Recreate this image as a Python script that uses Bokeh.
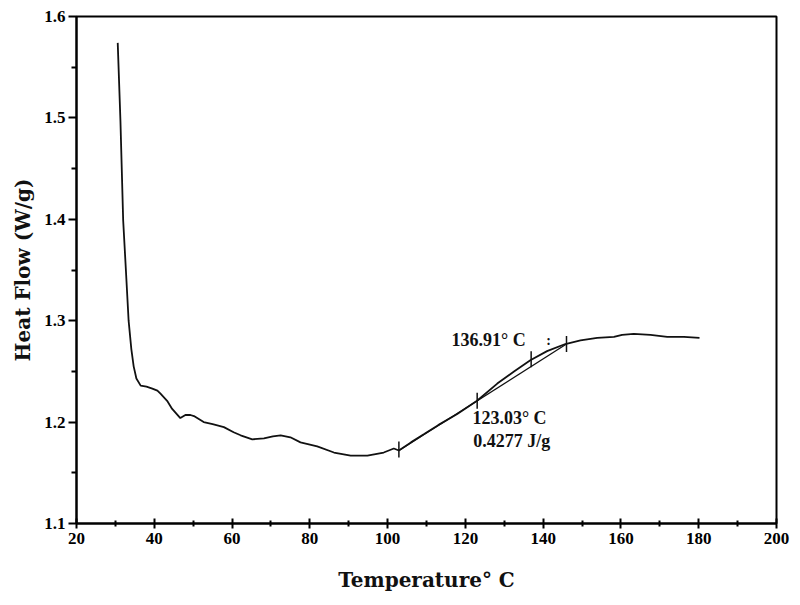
from bokeh.plotting import figure
from bokeh.models import FixedTicker, Range1d
from bokeh.core.properties import value
from bokeh.embed import file_html
from bokeh.resources import INLINE
import numpy as np

# DSC curve (Temperature in °C, Heat Flow in W/g)
temp = [30.6, 31.3, 32.0, 32.7, 33.4, 34.1, 34.7, 35.4, 36.5, 38.0, 39.5, 40.8, 41.6,
        43.3, 44.6, 46.7, 48.0, 49.3, 50.2, 52.7, 55.0, 57.9, 60.4, 62.2, 65.2,
        68.2, 70.5, 72.5, 75.0, 77.6, 81.9, 86.2, 90.5, 94.8, 99.0, 101.6, 102.9,
        106.0, 109.3, 113.0, 117.9, 123.0, 128.2, 132.5, 136.7, 141.0, 145.7,
        149.6, 153.9, 158.2, 160.3, 163.3, 167.6, 171.9, 176.2, 180.2]
heat_flow = [1.574, 1.497, 1.399, 1.350, 1.300, 1.272, 1.255, 1.243, 1.236, 1.235, 1.233, 1.231, 1.228,
             1.221, 1.213, 1.204, 1.207, 1.207, 1.206, 1.200, 1.198, 1.195, 1.190, 1.187, 1.183,
             1.184, 1.186, 1.187, 1.185, 1.180, 1.176, 1.170, 1.167, 1.167, 1.170, 1.174, 1.172,
             1.180, 1.188, 1.197, 1.208, 1.221, 1.238, 1.250, 1.261, 1.270, 1.277,
             1.2805, 1.283, 1.284, 1.286, 1.287, 1.286, 1.284, 1.284, 1.283]

# Glass-transition analysis: baseline and markers
baseline_t = [102.9, 146.0]
baseline_hf = [1.172, 1.277]
marker_t = [102.9, 123.03, 136.91, 146.0]
marker_hf = [1.173, 1.221, 1.262, 1.277]

# Annotation texts
label_onset = "136.91° C"
label_mid = "123.03° C"
label_enthalpy = "0.4277 J/g"

x_ticks = [20, 40, 60, 80, 100, 120, 140, 160, 180, 200]
x_minor = [30, 50, 70, 90, 110, 130, 150, 170, 190]
y_ticks = [1.1, 1.2, 1.3, 1.4, 1.5, 1.6]
y_minor = [1.15, 1.25, 1.35, 1.45, 1.55]

p = figure(width=798, height=600, x_range=Range1d(20, 200), y_range=Range1d(1.1, 1.6),
           output_backend="svg", toolbar_location=None,
           min_border_left=76, min_border_right=22, min_border_top=16, min_border_bottom=77)
p.grid.visible = False
p.outline_line_color = "black"
p.outline_line_width = 2
p.background_fill_color = "white"
p.border_fill_color = "white"

p.line(temp, heat_flow, line_color="#111111", line_width=1.8)
p.line(baseline_t, baseline_hf, line_color="#111111", line_width=1.3)
p.scatter(marker_t, marker_hf, marker="dash", size=16, angle=np.pi / 2,
          line_color="#111111", line_width=1.5)

tfont = value("Liberation Serif")
p.text([135.5], [1.2805], text=[label_onset], text_font=tfont, text_font_size="18px",
       text_font_style="bold", text_align="right", text_baseline="middle", text_color="#111111")
p.text([141.4], [1.2805], text=[":"], text_font=tfont, text_font_size="14px",
       text_font_style="bold", text_align="center", text_baseline="middle", text_color="#111111")
p.text([121.8], [1.2036], text=[label_mid], text_font=tfont, text_font_size="18px",
       text_font_style="bold", text_align="left", text_baseline="middle", text_color="#111111")
p.text([122.0], [1.1818], text=[label_enthalpy], text_font=tfont, text_font_size="18px",
       text_font_style="bold", text_align="left", text_baseline="middle", text_color="#111111")

p.xaxis.ticker = FixedTicker(ticks=x_ticks, minor_ticks=x_minor)
p.yaxis.ticker = FixedTicker(ticks=y_ticks, minor_ticks=y_minor)
p.yaxis.formatter.use_scientific = False

p.xaxis.major_label_text_font = "Liberation Serif"
p.yaxis.major_label_text_font = "Liberation Serif"
p.xaxis.major_label_text_font_style = "bold"
p.yaxis.major_label_text_font_style = "bold"
p.xaxis.major_label_text_font_size = "17px"
p.yaxis.major_label_text_font_size = "17px"
p.xaxis.major_label_text_color = "black"
p.yaxis.major_label_text_color = "black"

for ax in (p.xaxis, p.yaxis):
    ax.axis_line_width = 2
    ax.axis_line_color = "black"
    ax.major_tick_line_width = 2
    ax.minor_tick_line_width = 2
    ax.major_tick_line_color = "black"
    ax.minor_tick_line_color = "black"
    ax.axis_label_text_font = "DejaVu Serif"
    ax.axis_label_text_font_style = "bold"
    ax.axis_label_text_font_size = "20px"
    ax.axis_label_text_color = "#111111"

p.xaxis.axis_label = "Temperature° C"
p.yaxis.axis_label = "Heat Flow (W/g)"
p.xaxis.major_tick_in = 5
p.xaxis.major_tick_out = 5
p.xaxis.minor_tick_in = 3
p.xaxis.minor_tick_out = 3
p.xaxis.major_label_standoff = 4
p.xaxis.axis_label_standoff = 21
p.yaxis.major_tick_in = 0
p.yaxis.major_tick_out = 8
p.yaxis.minor_tick_in = 0
p.yaxis.minor_tick_out = 5
p.yaxis.major_label_standoff = 3
p.yaxis.axis_label_standoff = 6

open("out.html", "w").write(file_html(p, INLINE))
